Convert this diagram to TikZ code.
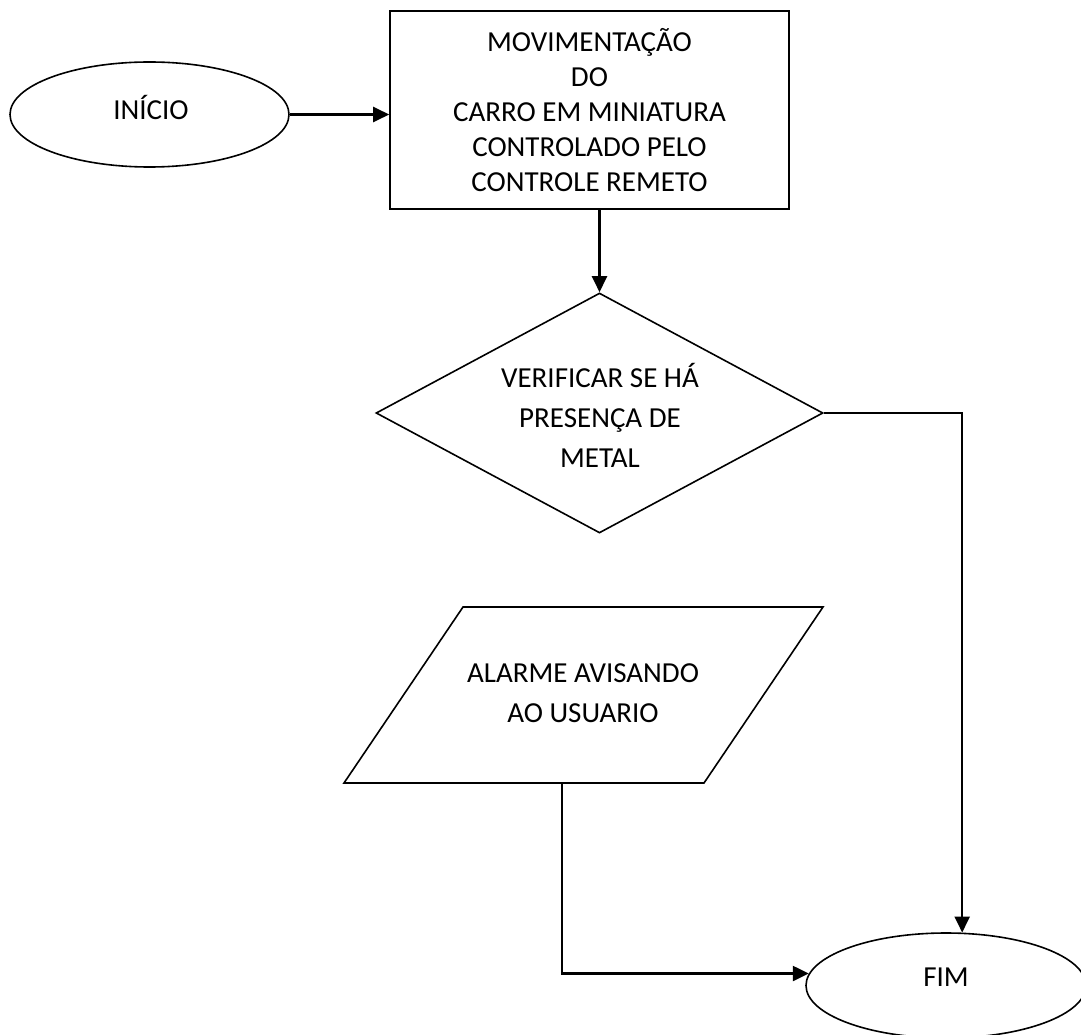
\documentclass[tikz,border=0pt]{standalone}
\usepackage{fontspec}
\setmainfont{Carlito}
\usetikzlibrary{shapes.geometric,arrows.meta}
\begin{document}
\begin{tikzpicture}[x=1pt,y=-1pt,
  shapebox/.style={draw=black,line width=1.6pt,inner sep=0pt},
  conn/.style={line width=2.3pt,-{Triangle[length=16pt,width=15pt]}},
  txt/.style={align=center,font=\fontsize{29}{35}\selectfont},
  txtwide/.style={align=center,font=\fontsize{29}{40}\selectfont}]
\useasboundingbox (0,0) rectangle (1081,1035);

% start
\node[shapebox,ellipse,minimum width=279,minimum height=105] (inicio) at (149.5,114.5) {};
\node[txt] (iniciotxt) at (151,107) {INÍCIO};

% process
\node[shapebox,rectangle,minimum width=399,minimum height=198,txt] (mov) at (589.5,110)
  {MOVIMENTAÇÃO\\DO\\CARRO EM MINIATURA\\CONTROLADO PELO\\CONTROLE REMETO};

% decision
\node[shapebox,diamond,minimum width=447,minimum height=240,shape aspect=1.86,txtwide] (verif) at (599.5,413) {};
\node[txtwide] (veriftxt) at (600,415) {VERIFICAR SE HÁ\\PRESENÇA DE\\METAL};

% output (parallelogram)
\draw[line width=1.6pt] (463,607) -- (823,607) -- (704,783) -- (344,783) -- cycle;
\node[txtwide] (alarm) at (583,693) {ALARME AVISANDO\\AO USUARIO};
\coordinate (alarmbot) at (562,783);

% end
\node[shapebox,ellipse,minimum width=280,minimum height=105] (fim) at (946,985.5) {};
\node[txt] (fimtxt) at (946,977) {FIM};

% connectors
\draw[conn] (inicio.east) -- (inicio.east -| mov.west);
\draw[conn] (verif.north |- mov.south) -- (verif.north);
\draw[conn] (verif.east) -| (fim.73);
\draw[conn] (alarmbot) |- (fim.175);
\end{tikzpicture}
\end{document}
